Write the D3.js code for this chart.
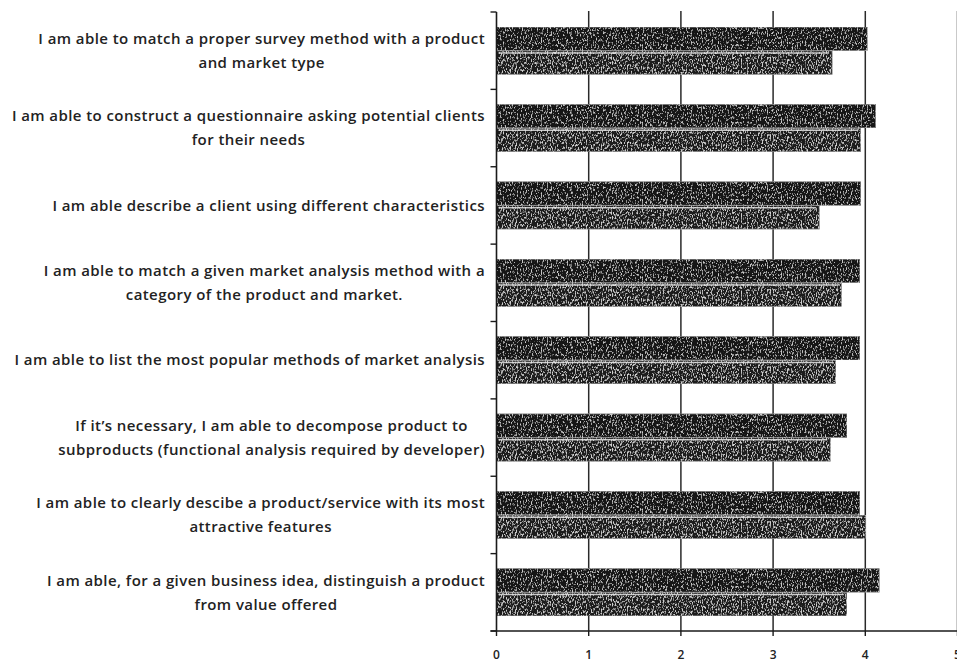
<!DOCTYPE html>
<html>
<head>
<meta charset="utf-8">
<script src="https://cdn.jsdelivr.net/npm/d3@7"></script>
<style>
  html, body { margin: 0; padding: 0; background: #fff; }
  svg { display: block; }
  .cat-label { font-family: "Open Sans", sans-serif; font-size: 15px; font-weight: 600; fill: #222; letter-spacing: 0.42px; }
  .tick-label { font-family: "Open Sans", sans-serif; font-size: 12px; font-weight: 600; fill: #222; }
</style>
</head>
<body>
<svg id="chart" width="957" height="662"></svg>
<script>
// Survey statements (top to bottom), each split into its display lines
const categories = [
  ["I am able to match a proper survey method with a product", "and market type"],
  ["I am able to construct a questionnaire asking potential clients", "for their needs"],
  ["I am able describe a client using different characteristics"],
  ["I am able to match a given market analysis method with a", "category of the product and market."],
  ["I am able to list the most popular methods of market analysis"],
  ["If it\u2019s necessary, I am able to decompose product to", "subproducts (functional analysis required by developer)"],
  ["I am able to clearly descibe a product/service with its most", "attractive features"],
  ["I am able, for a given business idea, distinguish a product", "from value offered"]
];

// Mean self-assessment scores, two groups
const seriesA = [4.02, 4.11, 3.95, 3.94, 3.94, 3.80, 3.94, 4.15]; // upper bar
const seriesB = [3.64, 3.95, 3.50, 3.74, 3.68, 3.62, 4.00, 3.80]; // lower bar

const xTicks = [0, 1, 2, 3, 4, 5];

const svg = d3.select("#chart");
const plot = { left: 496.5, right: 957.5, top: 12, bottom: 631 };

const keys = categories.map((c, i) => "c" + i);

const x = d3.scaleLinear().domain([0, 5]).range([plot.left, plot.right]);
const y = d3.scaleBand().domain(keys).range([plot.top, plot.bottom])
  .paddingInner(0.39).paddingOuter(0.195);
const ySub = d3.scaleBand().domain(["A", "B"]).range([0, y.bandwidth()]).paddingInner(0.02);

// Speckled fill for the bars
const defs = svg.append("defs");
function speckle(id, seed, freq, tone, gain, bias) {
  const f = defs.append("filter").attr("id", id)
    .attr("x", 0).attr("y", 0).attr("width", 1).attr("height", 1)
    .attr("filterUnits", "objectBoundingBox");
  f.append("feTurbulence").attr("type", "fractalNoise")
    .attr("baseFrequency", freq).attr("numOctaves", 2).attr("seed", seed).attr("result", "noise");
  f.append("feColorMatrix").attr("in", "noise").attr("type", "matrix")
    .attr("values", `0 0 0 0 ${tone}  0 0 0 0 ${tone}  0 0 0 0 ${tone}  ${gain} 0 0 0 ${bias}`)
    .attr("result", "specks");
  f.append("feComposite").attr("in", "specks").attr("in2", "SourceGraphic")
    .attr("operator", "in").attr("result", "clipped");
  const m = f.append("feMerge");
  m.append("feMergeNode").attr("in", "SourceGraphic");
  m.append("feMergeNode").attr("in", "clipped");
}
speckle("speckA", 4, "0.8 0.4", 0.6, 5, -2.75);
speckle("speckB", 9, "0.8 0.4", 0.64, 5, -2.6);

// Gridlines
svg.append("g").selectAll("line")
  .data(xTicks.filter(t => t > 0))
  .join("line")
  .attr("x1", d => x(d)).attr("x2", d => x(d))
  .attr("y1", plot.top - 1).attr("y2", plot.bottom)
  .attr("stroke", "#2a2a2a").attr("stroke-width", 1.5);

// Bars
const groups = svg.append("g").selectAll("g")
  .data(keys)
  .join("g")
  .attr("transform", d => `translate(0,${y(d)})`);

groups.append("rect")
  .attr("x", x(0))
  .attr("y", ySub("A"))
  .attr("width", (d, i) => x(seriesA[i]) - x(0))
  .attr("height", ySub.bandwidth())
  .attr("fill", "#141414")
  .attr("stroke", "#777").attr("stroke-width", 0.8)
  .attr("filter", "url(#speckA)");

groups.append("rect")
  .attr("x", x(0))
  .attr("y", ySub("B"))
  .attr("width", (d, i) => x(seriesB[i]) - x(0))
  .attr("height", ySub.bandwidth())
  .attr("fill", "#1c1c1c")
  .attr("stroke", "#888").attr("stroke-width", 0.8)
  .attr("filter", "url(#speckB)");

// Pale sheen along the top of the lower bar
groups.append("line")
  .attr("x1", x(0) + 2)
  .attr("x2", (d, i) => x(seriesB[i]) - 3)
  .attr("y1", ySub("B") + 2).attr("y2", ySub("B") + 2)
  .attr("stroke", "#e4e4e4").attr("stroke-width", 1.6).attr("opacity", 0.85);

// Left axis with category boundary ticks
const yAxis = svg.append("g");
yAxis.append("line")
  .attr("x1", x(0)).attr("x2", x(0))
  .attr("y1", plot.top).attr("y2", plot.bottom)
  .attr("stroke", "#1a1a1a").attr("stroke-width", 1.6);
const bounds = d3.range(keys.length + 1).map(i => plot.top + i * (plot.bottom - plot.top) / keys.length);
yAxis.selectAll("line.tk").data(bounds).join("line")
  .attr("class", "tk")
  .attr("x1", x(0) - 6).attr("x2", x(0))
  .attr("y1", d => d).attr("y2", d => d)
  .attr("stroke", "#1a1a1a").attr("stroke-width", 1.4);

// Bottom axis
const xAxis = svg.append("g");
xAxis.append("line")
  .attr("x1", x(0) - 6).attr("x2", plot.right)
  .attr("y1", plot.bottom).attr("y2", plot.bottom)
  .attr("stroke", "#1a1a1a").attr("stroke-width", 1.6);
xAxis.selectAll("line.tk").data(xTicks).join("line")
  .attr("class", "tk")
  .attr("x1", d => x(d)).attr("x2", d => x(d))
  .attr("y1", plot.bottom).attr("y2", plot.bottom + 5)
  .attr("stroke", "#1a1a1a").attr("stroke-width", 1.4);
xAxis.selectAll("text").data(xTicks).join("text")
  .attr("class", "tick-label")
  .attr("x", d => x(d)).attr("y", 655)
  .attr("dy", "0.35em")
  .attr("text-anchor", "middle")
  .text(d => d);

// Category labels: block right-aligned to the axis, lines centred within the block
const labelRight = 485;
const lineGap = 24;
const labels = svg.append("g");
keys.forEach((k, i) => {
  const lines = categories[i];
  const cy = y(k) + y.bandwidth() / 2;
  const t = labels.append("text").attr("class", "cat-label").attr("text-anchor", "middle");
  const spans = lines.map((ln, j) => t.append("tspan")
    .attr("y", cy + (j - (lines.length - 1) / 2) * lineGap)
    .attr("dy", "0.35em")
    .text(ln));
  const widest = d3.max(spans, s => s.node().getComputedTextLength());
  spans.forEach(s => s.attr("x", labelRight - widest / 2));
});
</script>
</body>
</html>
